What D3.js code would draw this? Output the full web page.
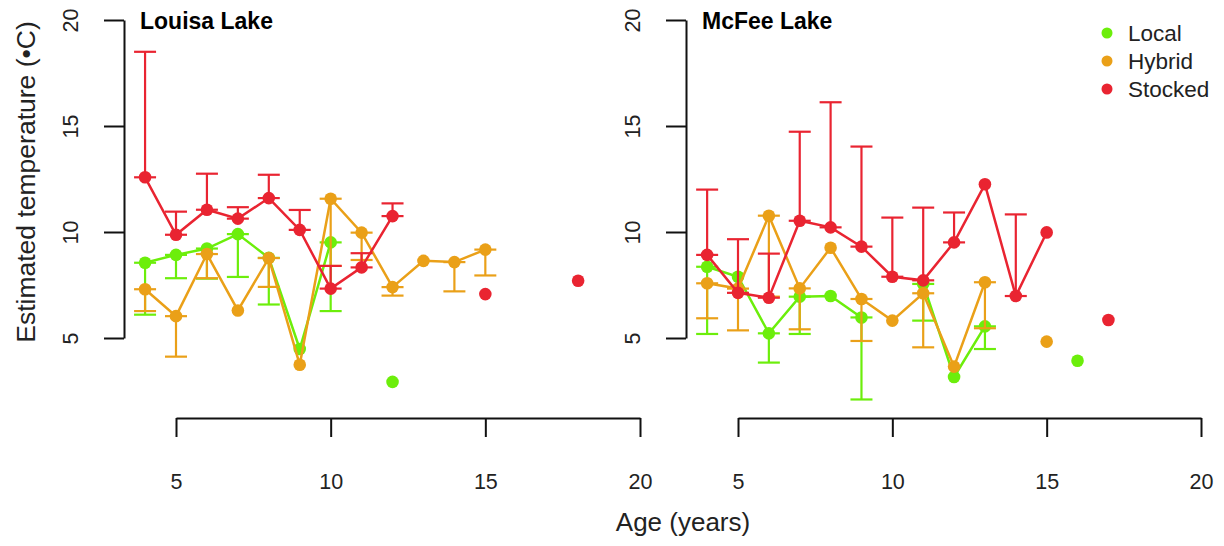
<!DOCTYPE html>
<html>
<head>
<meta charset="utf-8">
<script src="https://cdn.jsdelivr.net/npm/d3@7"></script>
<style>
  body { margin: 0; background: #fff; }
  svg { font-family: "Liberation Sans", Arial, Helvetica, sans-serif; }
</style>
</head>
<body>
<svg id="chart" width="1224" height="546"></svg>
<script>
// ages shared by every series (null = no estimate for that age)
const ages = [4, 5, 6, 7, 8, 9, 10, 11, 12, 13, 14, 15, 16, 17, 18];
const groups = ["Local", "Hybrid", "Stocked"];
const colors = ["#6cee0b", "#eaa018", "#e92431"];
const yTicks = [5, 10, 15, 20];
const xTicks = [5, 10, 15, 20];

// Louisa Lake: estimate and error-bar end
const louisaLocal    = [8.55, 8.92, 9.22, 9.9, 8.78, 4.48, 9.51, null, 2.93, null, null, null, null, null, null];
const louisaLocalErr = [6.1, 7.82, 7.8, 7.88, 6.58, null, 6.27, null, null, null, null, null, null, null, null];
const louisaHybrid    = [7.3, 6.03, 8.96, 6.3, 8.77, 3.74, 11.57, 9.97, 7.4, 8.64, 8.58, 9.17, null, null, null];
const louisaHybridErr = [6.27, 4.12, 7.82, null, 7.41, null, 8.4, 8.68, 7.0, null, 7.2, 7.95, null, null, null];
const louisaStocked    = [12.58, 9.87, 11.05, 10.63, 11.6, 10.1, 7.33, 8.33, 10.75, null, null, 7.07, null, null, 7.7];
const louisaStockedErr = [18.5, 10.96, 12.75, 11.17, 12.7, 11.04, 8.4, 9.0, 11.35, null, null, null, null, null, null];

// McFee Lake
const mcfeeLocal    = [8.36, 7.89, 5.22, 6.95, 6.98, 5.97, null, 7.55, 3.16, 5.55, null, null, 3.93, null, null];
const mcfeeLocalErr = [5.19, null, 3.84, 5.19, null, 2.1, null, 5.82, null, 4.48, null, null, null, null, null];
const mcfeeHybrid    = [7.58, 7.33, 10.77, 7.34, 9.26, 6.84, 5.82, 7.11, 3.65, 7.63, null, 4.83, null, null, null];
const mcfeeHybridErr = [5.93, 5.36, 6.95, 5.41, null, 4.86, null, 4.56, null, 5.46, null, null, null, null, null];
const mcfeeStocked    = [8.92, 7.13, 6.9, 10.53, 10.22, 9.31, 7.89, 7.72, 9.51, 12.25, 6.98, 9.98, null, 5.85, null];
const mcfeeStockedErr = [12.0, 9.66, 8.98, 14.73, 16.12, 14.03, 10.68, 11.15, 10.92, null, 10.83, null, null, null, null];

const panels = [
    { title: "Louisa Lake", axisX: 124, range: [176, 640],
      series: [[louisaLocal, louisaLocalErr], [louisaHybrid, louisaHybridErr], [louisaStocked, louisaStockedErr]] },
    { title: "McFee Lake", axisX: 686, range: [738, 1201],
      series: [[mcfeeLocal, mcfeeLocalErr], [mcfeeHybrid, mcfeeHybridErr], [mcfeeStocked, mcfeeStockedErr]] }
];

const svg = d3.select("#chart");
const y = d3.scaleLinear().domain([5, 20]).range([338, 20]);
const axisY = 418;

panels.forEach(p => {
    const x = d3.scaleLinear().domain([5, 20]).range(p.range);
    const g = svg.append("g");

    // y axis
    const ya = g.append("g")
        .attr("transform", `translate(${p.axisX},0)`)
        .call(d3.axisLeft(y).tickValues(yTicks).tickSize(20).tickSizeOuter(0));
    ya.selectAll("text")
        .attr("x", 0).attr("y", -46).attr("dy", null)
        .attr("transform", "rotate(-90)")
        .attr("text-anchor", "middle")
        .attr("font-size", 21.5).attr("fill", "#222");

    // x axis
    const xa = g.append("g")
        .attr("transform", `translate(0,${axisY})`)
        .call(d3.axisBottom(x).tickValues(xTicks).tickSize(19).tickSizeOuter(0));
    xa.selectAll("text")
        .attr("y", 71).attr("dy", null)
        .attr("font-size", 21.5).attr("fill", "#222");

    g.selectAll(".domain, .tick line").attr("stroke", "#111").attr("stroke-width", 2);

    g.append("text")
        .attr("x", p.axisX + 16).attr("y", 29)
        .attr("font-size", 23).attr("font-weight", "bold")
        .text(p.title);

    p.series.forEach(([vals, errs], i) => {
        const col = colors[i];
        const pts = ages.map((a, j) => ({ age: a, v: vals[j], e: errs[j] }));

        // error bars: from the estimate to the bar end, capped at both ends
        const eb = g.append("g").attr("stroke", col).attr("stroke-width", 2.2);
        pts.filter(d => d.v != null && d.e != null).forEach(d => {
            const cx = x(d.age);
            eb.append("line").attr("x1", cx).attr("x2", cx).attr("y1", y(d.v)).attr("y2", y(d.e));
            [d.v, d.e].forEach(t => {
                eb.append("line").attr("x1", cx - 11).attr("x2", cx + 11).attr("y1", y(t)).attr("y2", y(t));
            });
        });

        const line = d3.line()
            .defined(d => d.v != null)
            .x(d => x(d.age))
            .y(d => y(d.v));
        g.append("path")
            .datum(pts)
            .attr("fill", "none")
            .attr("stroke", col)
            .attr("stroke-width", 2.5)
            .attr("d", line);

        g.append("g").selectAll("circle")
            .data(pts.filter(d => d.v != null))
            .enter().append("circle")
            .attr("cx", d => x(d.age))
            .attr("cy", d => y(d.v))
            .attr("r", 6.3)
            .attr("fill", col);
    });
});

// axis titles
svg.append("text")
    .attr("x", 683).attr("y", 531)
    .attr("text-anchor", "middle")
    .attr("font-size", 26).attr("fill", "#222")
    .text("Age (years)");

svg.append("text")
    .attr("transform", "translate(35,182) rotate(-90)")
    .attr("text-anchor", "middle")
    .attr("font-size", 26.5).attr("fill", "#222")
    .text("Estimated temperature (•C)");

// legend
const legend = svg.append("g").attr("transform", "translate(1107,33)");
groups.forEach((name, i) => {
    legend.append("circle")
        .attr("cx", 0).attr("cy", i * 28)
        .attr("r", 5.5).attr("fill", colors[i]);
    legend.append("text")
        .attr("x", 21).attr("y", i * 28).attr("dy", "0.36em")
        .attr("font-size", 22.5).attr("fill", "#222")
        .text(name);
});
</script>
</body>
</html>
